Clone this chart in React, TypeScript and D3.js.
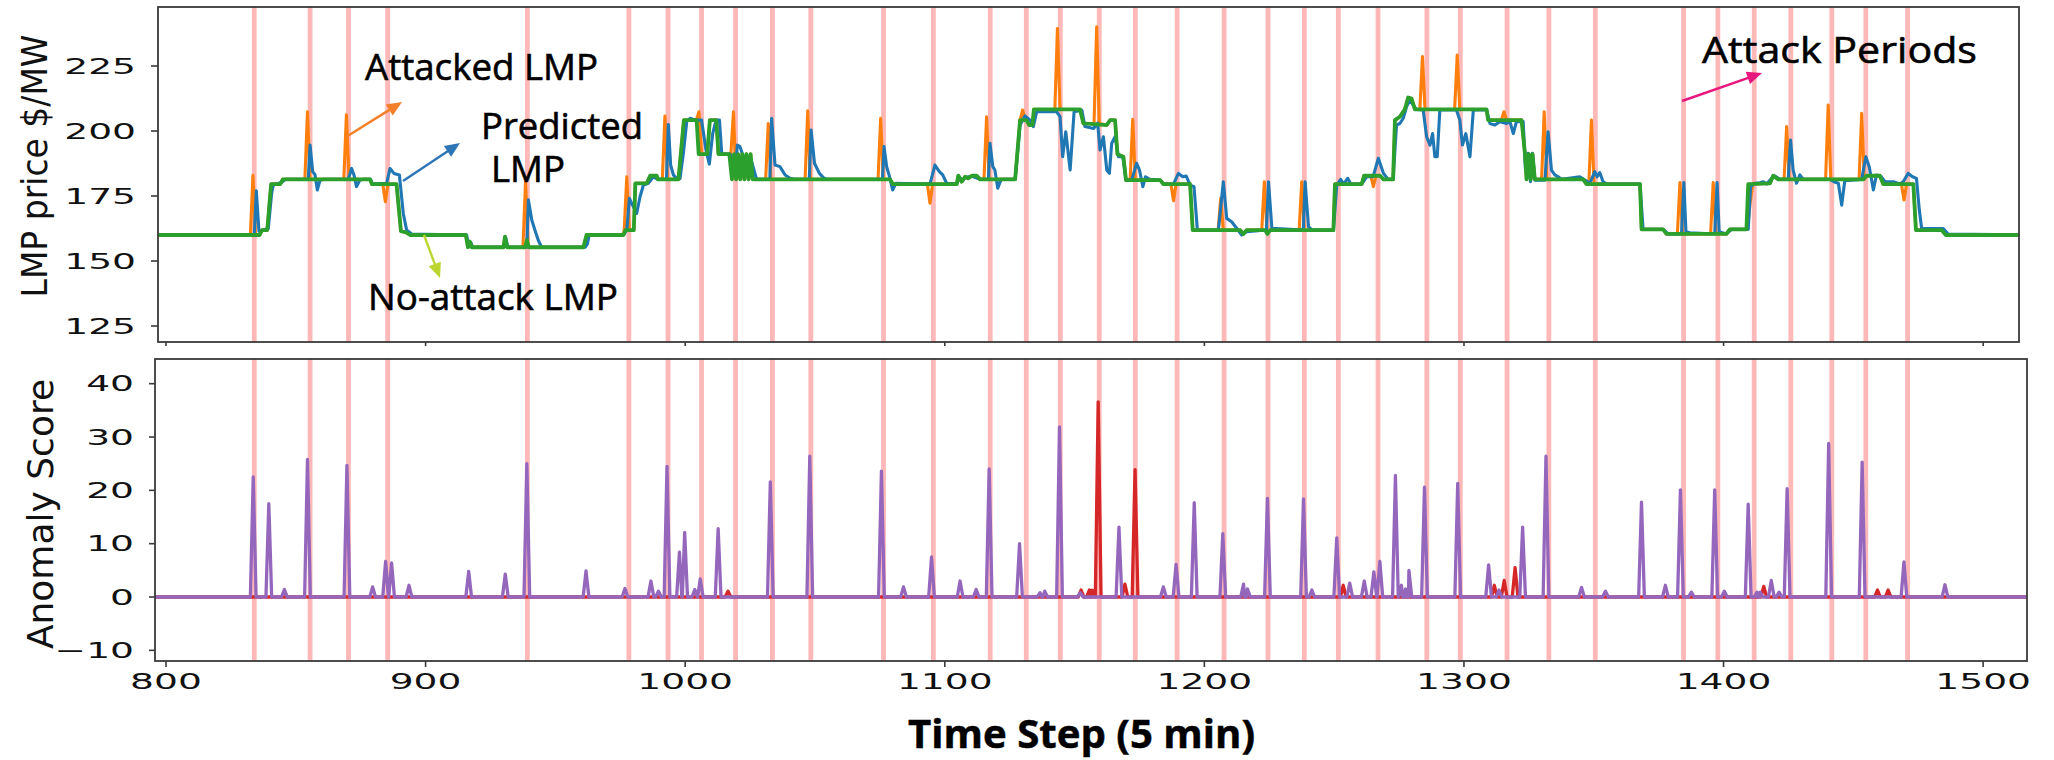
import React, { useEffect } from 'react';
import * as d3 from 'd3';

type P = [number, number];

// ---------------- data ----------------
const timeTicks = [800, 900, 1000, 1100, 1200, 1300, 1400, 1500];
const lmpTicks = [125, 150, 175, 200, 225];
const scoreTicks = [-10, 0, 10, 20, 30, 40];

const attackPeriods = [834, 855.5, 870.3, 885.4, 939.2, 978.3, 993.4, 1006.3, 1019.4, 1033.6, 1048.4, 1076.4,
  1095.6, 1117.5, 1131.4, 1144.5, 1159.5, 1173.4, 1189.5, 1207.6, 1224.5, 1238.5, 1251.6, 1266.9, 1285.7,
  1298.6, 1316.6, 1332.7, 1350.6, 1384.6, 1397.8, 1411.8, 1425.9, 1441.7, 1454.8, 1470.9];

// No-attack LMP (green)
const noAttackLMP: P[] = [
  [795, 160], [836, 160], [837, 161.9], [839, 161.9], [840.5, 179.6], [844, 179.6], [845, 181.4], [878.6, 181.4],
  [879.3, 179.6], [888.8, 179.6], [890.5, 161.5], [892.5, 161], [894, 160], [915.5, 160], [916.3, 155.3],
  [917, 157.5], [917.8, 155.3], [930, 155.3], [930.6, 159.4], [931.4, 155.3], [938.4, 155.3], [939, 158],
  [939.8, 155.3], [960.8, 155.3], [962, 160], [976.2, 160], [977, 161.9], [980.2, 161.9], [980.8, 179.9],
  [985.2, 179.9], [986.5, 182.8], [989, 182.8], [989.5, 181.4], [997.4, 181.4], [999.5, 204.2], [1004.4, 204.2],
  [1005.2, 191.1], [1008.5, 191.1], [1009.5, 204.2], [1012, 204.2], [1012.8, 191.1], [1017, 191.1],
  [1018, 181.4], [1018.8, 191.1], [1019.6, 181.4], [1020.4, 191.1], [1021.2, 181.4], [1022, 191.1],
  [1022.8, 181.4], [1023.6, 191.1], [1024.4, 181.4], [1025.2, 191.1], [1026, 181.4], [1078.9, 181.4],
  [1080, 179.6], [1104.6, 179.6], [1105.2, 182.8], [1106.5, 180.5], [1107.8, 182.4], [1109, 181.8],
  [1110.4, 182.8], [1112.3, 182.8], [1113.6, 181.4], [1127.1, 181.4], [1129, 204.2], [1131.5, 204.2],
  [1132.5, 202.3], [1133.8, 202.3], [1134.3, 208.3], [1152.1, 208.3], [1153.4, 202.9], [1162.4, 202.3],
  [1163.7, 204.2], [1165.6, 204.2], [1166.5, 191.1], [1168.8, 190.1], [1169.8, 181.1], [1183, 181.1],
  [1184.2, 179.6], [1194.5, 179.6], [1195.5, 161.9], [1213.8, 161.9], [1215, 160.4], [1216.3, 161.9],
  [1223.4, 161.9], [1224.3, 160.4], [1225.3, 161.9], [1249.7, 161.9], [1250.3, 179.6], [1260.6, 179.6],
  [1261.5, 182.8], [1267.7, 182.8], [1269, 181.4], [1272.7, 181.4], [1273.4, 204.2], [1275.3, 205.5],
  [1277.2, 208.3], [1278.5, 212.9], [1279.8, 212.5], [1281.1, 208.3], [1308.7, 208.3], [1309.3, 204.2],
  [1322.2, 204.2], [1323.5, 191.1], [1324.1, 181.4], [1325, 191.1], [1325.7, 181.4], [1326.4, 191.1],
  [1327.3, 181.4], [1345.9, 181.4], [1347.2, 179.6], [1367.8, 179.6], [1368.4, 162.2], [1376.7, 162.2],
  [1378, 160.4], [1401.1, 160.4], [1402.4, 162.2], [1408.8, 162.2], [1409.5, 179.6], [1417.9, 179.9],
  [1419.1, 182.8], [1421.1, 181.4], [1453.8, 181.4], [1455.1, 182.8], [1460.2, 182.8], [1461.5, 179.6],
  [1473.1, 179.6], [1474.1, 161.9], [1484, 161.9], [1485.6, 160], [1517, 160],
];

// Attacked LMP spikes (orange): time, level before, peak, level after
const attackSpikes: [number, number, number, number][] = [
  [833.5, 160, 183, 160], [854.5, 181.4, 207.4, 181.4], [869.5, 181.4, 206.2, 181.4], [884.5, 179.6, 172.8, 179.6],
  [938.5, 155.3, 180.5, 155.3], [977.5, 161.9, 182.4, 161.9], [992.2, 181.4, 205.8, 181.4],
  [1005.3, 204.2, 207.4, 191.1], [1018.6, 191.1, 207.4, 181.4], [1032, 181.4, 202.9, 181.4],
  [1047.2, 181.4, 207.8, 181.4], [1075.3, 181.4, 204.9, 181.4], [1094.3, 179.6, 172.2, 179.6],
  [1116.1, 181.4, 205.5, 181.4], [1130, 204.2, 208.1, 204.2], [1143.4, 208.3, 239.5, 208.3],
  [1158.5, 202.9, 240.1, 202.9], [1172.4, 181.1, 204.5, 181.1], [1188.1, 179.6, 173.2, 179.6],
  [1206.3, 161.9, 174.1, 161.9], [1223.1, 161.9, 180.5, 161.9], [1237.5, 161.9, 180.5, 161.9],
  [1265.1, 182.8, 178.6, 182.8], [1284, 208.3, 228.6, 208.3], [1297.4, 208.3, 229.2, 208.3],
  [1315.4, 204.2, 207.4, 204.2], [1330.9, 181.4, 207.4, 181.4], [1349.1, 179.6, 204.2, 179.6],
  [1383.2, 160.4, 180.2, 160.4], [1396, 160.4, 180.2, 160.4], [1410.2, 162.2, 172, 179.6],
  [1424.3, 181.4, 201.7, 181.4], [1440.3, 181.4, 210, 181.4], [1453.2, 181.4, 206.8, 181.4],
  [1469.5, 179.6, 173.5, 179.6],
];

// Predicted LMP (blue)
const predictedLMP: P[] = [
  [795, 160], [834, 160], [834.8, 177], [835.8, 161.5], [837.5, 161.9], [839.4, 162.5], [840.7, 176], [841.3, 179.2],
  [844.5, 180.2], [846, 181.4], [854.8, 181.4], [855.5, 194.6], [856.5, 184.4], [857.4, 183.2], [858.3, 177.3],
  [859.3, 181], [860.5, 181.4], [870.2, 181.4], [871.5, 185.6], [872.4, 183.1], [873.4, 178.6], [874.7, 181.2],
  [876, 181.4], [878.8, 181.4], [879.6, 179.6], [885, 179.9], [886.3, 185.6], [887.8, 183.7], [889.9, 183.1],
  [891.4, 168.3], [892.7, 161.9], [894.6, 160.4], [915.8, 160], [916.6, 155.5], [917.4, 157.2], [918.2, 155.3],
  [930.2, 155.3], [930.9, 158.8], [931.7, 155.3], [939, 155.3], [939.6, 173.5], [940.9, 165.8], [942.1, 161.9],
  [943.4, 158], [944.7, 155.3], [961.5, 155.3], [962.3, 156.5], [963, 160], [976.2, 160], [977.5, 161.9],
  [978.5, 174.1], [979.4, 172.2], [981.3, 168.3], [982.6, 174.7], [983.9, 179.2], [985.8, 179.9], [987.7, 182.4],
  [989.5, 181.4], [992.8, 181.4], [993.5, 202.5], [994.4, 186.9], [995.5, 183], [996.8, 181.7], [998, 181.7],
  [999.3, 191.4], [1000.6, 203.6], [1001.9, 204.9], [1003.8, 204.2], [1006.3, 204.2], [1008, 192.7],
  [1009.3, 187.3], [1010.6, 199], [1011.9, 204.2], [1013.2, 204.2], [1014.1, 191.1], [1017.3, 191.1],
  [1019.2, 183.7], [1020.1, 194.6], [1021.1, 194], [1022.4, 190.1], [1023.7, 185], [1025.6, 188.2],
  [1027.5, 181.4], [1032.6, 181.4], [1033.3, 204.9], [1034.6, 186.9], [1036.5, 186.3], [1038.5, 183.1],
  [1040.4, 181.8], [1042, 181.4], [1047.8, 181.4], [1048.5, 200.4], [1049.8, 187.6], [1051.7, 183.7],
  [1053.5, 181.8], [1055, 181.4], [1076, 181.4], [1076.6, 194], [1077.6, 186.3], [1078.9, 181.8],
  [1079.9, 177.3], [1081.2, 179.9], [1094.3, 179.6], [1096.2, 186.9], [1097.9, 184.4], [1099.2, 183.1],
  [1100.7, 179.9], [1104.6, 179.6], [1105.5, 182.5], [1106.8, 180.8], [1108, 182.2], [1110.5, 182.6],
  [1113.6, 181.4], [1116.8, 181.4], [1117.4, 195.3], [1118.5, 186.3], [1119.3, 185], [1120.4, 178],
  [1121.7, 181.4], [1127.1, 181.4], [1129, 202.3], [1130.9, 205.8], [1132.9, 204.2], [1134.1, 201.7],
  [1135.4, 207.4], [1143.1, 207.4], [1144.4, 205.5], [1145.4, 190.1], [1146.6, 199.7], [1148.3, 185],
  [1149.8, 207.4], [1152.8, 208], [1154, 201.7], [1157.3, 201], [1158.9, 203], [1159.8, 192.7],
  [1161.1, 197.8], [1162.4, 185], [1163.4, 183.7], [1164.3, 195.3], [1165.6, 197.8], [1166.9, 190.1],
  [1168.6, 190.1], [1169.8, 181.1], [1172, 181.1], [1173.9, 187.6], [1175, 185], [1176.3, 178.6],
  [1177.3, 182.4], [1179, 181.4], [1183, 181.1], [1184.2, 179.6], [1188.1, 179.6], [1190, 183.7],
  [1191.7, 182.4], [1193, 182.7], [1194.5, 179.2], [1196, 178.6], [1197.3, 161.9], [1205.4, 161.9],
  [1207.3, 180.5], [1208.6, 166.4], [1210.5, 165.1], [1212.5, 162.5], [1214.4, 160], [1216.3, 161.3],
  [1223.9, 161.9], [1224.7, 180.5], [1226, 162.6], [1238.1, 161.9], [1238.8, 180.5], [1240.1, 163.2],
  [1241.5, 161.9], [1249.7, 161.9], [1251, 179.2], [1252.5, 181.4], [1253.6, 179.6], [1255.2, 181.8],
  [1256.4, 179.6], [1260.6, 179.6], [1262.5, 182.4], [1265, 182.4], [1267, 189.5], [1269, 183.7],
  [1270.8, 181.4], [1272.7, 181.4], [1274, 202.3], [1275.3, 202.9], [1276.6, 204.9], [1277.9, 209.4],
  [1279.2, 211.9], [1280.4, 210], [1281.7, 208.3], [1284.3, 208.1], [1285.6, 197.8], [1286.9, 194.6],
  [1287.9, 199], [1288.8, 190.1], [1289.7, 190.1], [1290.7, 208.1], [1297.1, 208.1], [1298.4, 204.2],
  [1299.4, 194.6], [1300.7, 199], [1302.3, 190.1], [1303.6, 208.1], [1308.7, 208.1], [1310, 202.9],
  [1311.9, 202.3], [1313.8, 203.6], [1316.4, 202.9], [1317.7, 203.6], [1319, 199], [1320.2, 203.6],
  [1322.8, 203.6], [1323.7, 185], [1324.7, 191.4], [1325.6, 180.5], [1326.4, 191.4], [1327.3, 181.1],
  [1331.2, 181.1], [1332.4, 199.7], [1333.7, 185], [1335, 183.1], [1336.3, 182.4], [1337.6, 181.4],
  [1344.6, 182.4], [1346.6, 181.1], [1348.5, 179.9], [1350.4, 184.4], [1351.3, 182.4], [1352.3, 184],
  [1353.6, 180.5], [1355, 179.6], [1367.8, 179.6], [1369, 162.2], [1376.7, 162.2], [1378.7, 160.4],
  [1383.8, 160.4], [1384.7, 180.2], [1385.5, 161.3], [1387, 160.9], [1396.6, 160.4], [1397.5, 180.2],
  [1398.3, 161.3], [1401, 160.4], [1403.1, 162.2], [1409.5, 162.2], [1410.4, 178.6], [1412, 179.9],
  [1414, 180.1], [1415.3, 180.5], [1416.6, 179.6], [1418.5, 181.8], [1419.8, 182.7], [1421.7, 181.4],
  [1424.9, 181.4], [1425.8, 196.5], [1426.8, 185], [1428.1, 179.9], [1429.4, 183.1], [1430.7, 181.4],
  [1441, 181.4], [1442.5, 180.5], [1444.2, 179.9], [1445.5, 171.5], [1446.7, 180.9], [1453.2, 181.4],
  [1454.8, 190.1], [1456.1, 186.3], [1457.7, 177.3], [1458.9, 183.1], [1460.5, 182.7], [1462.2, 180.5],
  [1465.4, 180.5], [1467.9, 179.6], [1469.2, 180.5], [1471.1, 183.7], [1472.8, 182.4], [1474.3, 181.8],
  [1475.4, 169.6], [1476.3, 162.5], [1484.6, 162.5], [1486.5, 160.4], [1517, 160],
];

// Anomaly score peaks (purple series)
const scorePurplePeaks: P[] = [
  [833.6, 22.5], [839.6, 17.5], [845.6, 1.4], [854.5, 25.8], [869.7, 24.7], [879.6, 1.9], [884.6, 6.7],
  [886.9, 6.4], [893.6, 2.2], [916.6, 4.8], [930.7, 4.3], [939, 25], [961.8, 4.9], [976.8, 1.6], [986.8, 3],
  [989.7, 1.1], [993, 24.5], [997.8, 8.4], [999.8, 12.1], [1003.7, 1.4], [1005.8, 3.4], [1012.7, 12.8],
  [1032.8, 21.6], [1048, 26.4], [1075.6, 23.6], [1084.1, 1.9], [1094.9, 7.5], [1105.9, 3], [1112.1, 1.4],
  [1117.1, 24], [1128.8, 10], [1136.7, 0.8], [1138.5, 1.1], [1144.2, 31.9], [1152.2, 0.8], [1167.1, 13.1],
  [1184.2, 1.9], [1189.1, 6.1], [1196.1, 17.7], [1207.1, 11.9], [1215.1, 2.4], [1216.6, 1.5], [1224.3, 18.5],
  [1238.2, 18.4], [1241.4, 1.3], [1251, 11.1], [1256, 2.6], [1261.6, 3], [1265.3, 4.7], [1267.6, 6.7],
  [1273.6, 22.8], [1275.9, 2.2], [1277.5, 1.5], [1278.8, 5], [1284.8, 20.6], [1297.6, 21.3], [1309.5, 6],
  [1313.5, 1.3], [1322.6, 13.1], [1331.6, 26.4], [1345.3, 1.8], [1354.5, 1.1], [1368.4, 17.8], [1377.6, 2.2],
  [1383.4, 20.1], [1387.6, 0.9], [1396.6, 20.1], [1400.3, 1.1], [1409.5, 17.4], [1412.9, 0.9], [1414.1, 0.9],
  [1418.4, 3.1], [1421.4, 0.9], [1424.5, 20.3], [1440.5, 28.8], [1453.4, 25.3], [1469.5, 6.6], [1485.3, 2.3],
];

// Anomaly score peaks (red series)
const scoreRedPeaks: P[] = [
  [1016.5, 1.1], [1152.5, 1.3], [1155.7, 1.3], [1156.8, 1.3], [1159.1, 36.6], [1169.4, 2.4], [1173.3, 23.9],
  [1253.5, 2.2], [1311.7, 2.2], [1315.5, 3.1], [1319.7, 5.5], [1415.5, 2.0], [1459.3, 1.3], [1463.4, 1.3],
];

// ---------------- layout ----------------
const W = 2054;
const H = 760;
const top = { left: 158, right: 2019, top: 7, bottom: 342 };
const bot = { left: 155, right: 2027, top: 359, bottom: 661 };

const xTop = d3.scaleLinear().domain([796.92, 1513.8]).range([top.left, top.right]);
const yTop = d3.scaleLinear().domain([118.85, 247.7]).range([top.bottom, top.top]);
const xBot = d3.scaleLinear().domain([795.76, 1516.9]).range([bot.left, bot.right]);
const yBot = d3.scaleLinear().domain([-12.0, 44.63]).range([bot.bottom, bot.top]);

function buildAttacked(): P[] {
  const pts: P[] = noAttackLMP.filter(([t]) => !attackSpikes.some(([s]) => t > s - 1.05 && t < s + 1.05));
  attackSpikes.forEach(([s, bl, pk, br]) => {
    pts.push([s - 1, bl], [s, pk], [s + 1, br]);
  });
  return pts.sort((a, b) => a[0] - b[0]);
}

function buildScore(peaks: P[]): P[] {
  const pts: P[] = [[794, 0], [1518, 0]];
  peaks.forEach(([t, v]) => pts.push([t - 1.1, 0], [t, v], [t + 1.1, 0]));
  return pts.sort((a, b) => a[0] - b[0]);
}

const tickFont = 'DejaVu Sans, Liberation Sans, sans-serif';
const noteFont = 'Open Sans, Noto Sans, Liberation Sans, sans-serif';

function Arrow({ x1, y1, x2, y2, color }: { x1: number; y1: number; x2: number; y2: number; color: string }) {
  const dx = x2 - x1, dy = y2 - y1;
  const L = Math.hypot(dx, dy);
  const ux = dx / L, uy = dy / L;
  const hl = 15, hw = 6.5;
  const bx = x2 - ux * hl, by = y2 - uy * hl;
  const pts = [[x2, y2], [bx - uy * hw, by + ux * hw], [bx + uy * hw, by - ux * hw]];
  return (
    <g>
      <line x1={x1} y1={y1} x2={bx + ux * 2} y2={by + uy * 2} stroke={color} strokeWidth={2.4} />
      <polygon points={pts.map((p) => p.join(',')).join(' ')} fill={color} />
    </g>
  );
}

export default function App() {
  useEffect(() => {
    document.body.style.margin = '0';
  }, []);

  const lineTop = d3.line<P>().x((d) => xTop(d[0])).y((d) => yTop(d[1]));
  const lineBot = d3.line<P>().x((d) => xBot(d[0])).y((d) => yBot(d[1]));

  const attacked = buildAttacked();
  const purple = buildScore(scorePurplePeaks);
  const red = buildScore(scoreRedPeaks);

  const noteProps = { fontFamily: noteFont, lengthAdjust: 'spacingAndGlyphs', fill: '#000', stroke: '#000', strokeWidth: 0.6 } as const;

  return (
    <div style={{ position: 'absolute', left: 0, top: 0 }}>
      <svg width={W} height={H} viewBox={`0 0 ${W} ${H}`} style={{ display: 'block', background: '#fff' }}>
        <defs>
          <clipPath id="clipTop">
            <rect x={top.left} y={top.top} width={top.right - top.left} height={top.bottom - top.top} />
          </clipPath>
          <clipPath id="clipBot">
            <rect x={bot.left} y={bot.top} width={bot.right - bot.left} height={bot.bottom - bot.top} />
          </clipPath>
        </defs>
        <rect x={0} y={0} width={W} height={H} fill="#fff" />

        {/* ---------- top panel ---------- */}
        <g clipPath="url(#clipTop)">
          {attackPeriods.map((t, i) => (
            <rect key={i} x={xTop(t) - 2.4} y={top.top} width={4.8} height={top.bottom - top.top} fill="#ffb8b8" />
          ))}
          <path d={lineTop(attacked) || ''} fill="none" stroke="#ff7f0e" strokeWidth={3.1} strokeLinejoin="round" />
          <path d={lineTop(predictedLMP) || ''} fill="none" stroke="#1f77b4" strokeWidth={3.1} strokeLinejoin="round" />
          <path d={lineTop(noAttackLMP) || ''} fill="none" stroke="#2ca02c" strokeWidth={3.8} strokeLinejoin="round" />
        </g>
        <rect x={top.left} y={top.top} width={top.right - top.left} height={top.bottom - top.top}
          fill="none" stroke="#3a3a3a" strokeWidth={1.8} />
        {lmpTicks.map((v) => (
          <g key={v}>
            <line x1={top.left - 7} x2={top.left} y1={yTop(v)} y2={yTop(v)} stroke="#3a3a3a" strokeWidth={1.6} />
            <g transform={`translate(${top.left - 22},${yTop(v) + 7.8}) scale(1.75,1)`}>
              <text textAnchor="end" fontSize={21.5} fontFamily={tickFont} fill="#111">{v}</text>
            </g>
          </g>
        ))}
        {timeTicks.map((t) => (
          <line key={t} x1={xTop(t)} x2={xTop(t)} y1={top.bottom} y2={top.bottom + 4} stroke="#3a3a3a" strokeWidth={1.6} />
        ))}
        <g transform={`translate(47,166) rotate(-90) scale(1,1.1)`}>
          <text textAnchor="middle" fontSize={33} fontFamily={tickFont} fill="#111">LMP price $/MW</text>
        </g>

        {/* ---------- bottom panel ---------- */}
        <g clipPath="url(#clipBot)">
          {attackPeriods.map((t, i) => (
            <rect key={i} x={xBot(t) - 2.4} y={bot.top} width={4.8} height={bot.bottom - bot.top} fill="#ffb8b8" />
          ))}
          <path d={lineBot(red) || ''} fill="none" stroke="#d62728" strokeWidth={3.3} strokeLinejoin="round" />
          <path d={lineBot(purple) || ''} fill="none" stroke="#9467bd" strokeWidth={3.3} strokeLinejoin="round" />
        </g>
        <rect x={bot.left} y={bot.top} width={bot.right - bot.left} height={bot.bottom - bot.top}
          fill="none" stroke="#3a3a3a" strokeWidth={1.8} />
        {scoreTicks.map((v) => (
          <g key={v}>
            <line x1={bot.left - 6} x2={bot.left} y1={yBot(v)} y2={yBot(v)} stroke="#3a3a3a" strokeWidth={1.6} />
            <g transform={`translate(${bot.left - 21},${yBot(v) + 7.8}) scale(1.75,1)`}>
              <text textAnchor="end" fontSize={21.5} fontFamily={tickFont} fill="#111">
                {v < 0 ? `\u2212${Math.abs(v)}` : v}
              </text>
            </g>
          </g>
        ))}
        {timeTicks.map((t) => (
          <g key={t}>
            <line x1={xBot(t)} x2={xBot(t)} y1={bot.bottom} y2={bot.bottom + 6} stroke="#3a3a3a" strokeWidth={1.6} />
            <g transform={`translate(${xBot(t)},689) scale(1.75,1)`}>
              <text textAnchor="middle" fontSize={21.5} fontFamily={tickFont} fill="#111">{t}</text>
            </g>
          </g>
        ))}
        <g transform={`translate(53,514) rotate(-90)`}>
          <text textAnchor="middle" fontSize={36} fontFamily={tickFont} fill="#111">Anomaly Score</text>
        </g>

        {/* ---------- annotations ---------- */}
        <text x={365} y={80} fontSize={37} textLength={233} {...noteProps}>Attacked LMP</text>
        <text x={481} y={139} fontSize={37} textLength={162} {...noteProps}>Predicted</text>
        <text x={491} y={182} fontSize={37} textLength={74} {...noteProps}>LMP</text>
        <text x={368} y={310} fontSize={37} textLength={250} {...noteProps}>No-attack LMP</text>
        <text x={1702} y={63} fontSize={37} textLength={275} {...noteProps}>Attack Periods</text>
        <text x={908} y={748} fontSize={40} fontWeight="bold" fontFamily={noteFont} textLength={347}
          lengthAdjust="spacingAndGlyphs" fill="#000" stroke="#000" strokeWidth={0.5}>Time Step (5 min)</text>

        <Arrow x1={346} y1={137} x2={402} y2={102} color="#f4812a" />
        <Arrow x1={403} y1={181} x2={460} y2={143} color="#2e75b6" />
        <Arrow x1={424} y1={235} x2={440} y2={278} color="#bcd531" />
        <Arrow x1={1682} y1={101} x2={1762} y2={73} color="#e8177d" />
      </svg>
    </div>
  );
}
